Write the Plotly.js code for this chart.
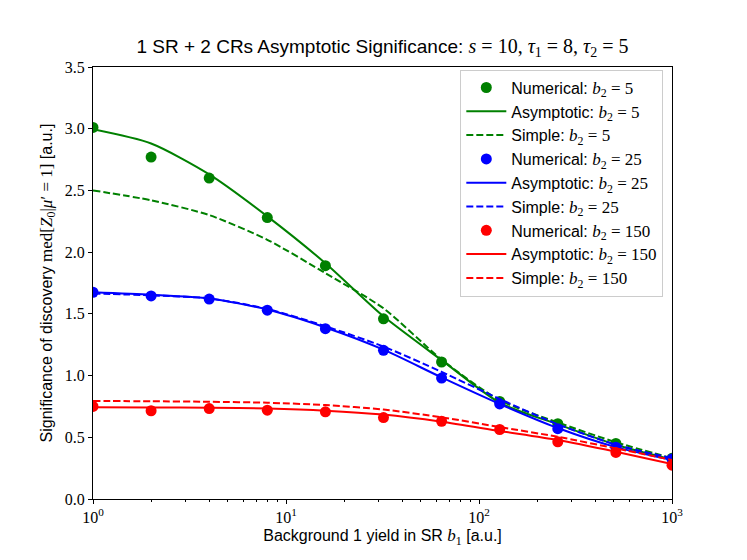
<!DOCTYPE html>
<html>
<head>
<meta charset="utf-8">
<script src="https://cdn.plot.ly/plotly-3.0.1.min.js"></script>
<style>
  body { margin: 0; background: #fff; }
  #chart { width: 747px; height: 560px; }
</style>
</head>
<body>
<div id="chart"></div>
<script>
// background yield in SR (b1)
const b1Values = [1, 2, 4, 8, 16, 32, 64, 128, 256, 512, 1000];

// b2 = 5
const numericalB2_5 = [3.01, 2.77, 2.60, 2.28, 1.89, 1.46, 1.11, 0.79, 0.61, 0.45, 0.33];
const asymptoticB2_5 = [2.995, 2.88, 2.63, 2.29, 1.91, 1.48, 1.125, 0.78, 0.605, 0.44, 0.32];
const simpleB2_5 = [2.50, 2.42, 2.30, 2.10, 1.83, 1.545, 1.13, 0.80, 0.62, 0.46, 0.33];

// b2 = 25
const numericalB2_25 = [1.675, 1.645, 1.62, 1.53, 1.38, 1.205, 0.98, 0.77, 0.57, 0.42, 0.325];
const asymptoticB2_25 = [1.675, 1.655, 1.625, 1.535, 1.39, 1.21, 0.985, 0.77, 0.575, 0.42, 0.315];
const simpleB2_25 = [1.665, 1.65, 1.625, 1.54, 1.40, 1.235, 1.03, 0.81, 0.605, 0.44, 0.33];

// b2 = 150
const numericalB2_150 = [0.75, 0.715, 0.733, 0.72, 0.706, 0.66, 0.63, 0.563, 0.463, 0.377, 0.274];
const asymptoticB2_150 = [0.743, 0.742, 0.74, 0.733, 0.716, 0.684, 0.626, 0.551, 0.478, 0.383, 0.283];
const simpleB2_150 = [0.794, 0.792, 0.788, 0.78, 0.761, 0.725, 0.662, 0.583, 0.504, 0.41, 0.316];

const xTickValues = [1, 10, 100, 1000];
const xTickLabels = ["10<sup>0</sup>", "10<sup>1</sup>", "10<sup>2</sup>", "10<sup>3</sup>"];

const SANS = "Liberation Sans, Arial, sans-serif";
const SERIF = "Liberation Serif, DejaVu Serif, serif";

function mathText(text, size) {
  return `<span style="font-family:${SERIF};font-size:${size}px">${text}</span>`;
}

function b2Label(kind, b2) {
  return `${kind}: ${mathText(`<i>b</i><sub>2</sub> = ${b2}`, 17)}`;
}

function minorLogTicks() {
  const values = [];
  [1, 10, 100].forEach((decade) => {
    for (let k = 2; k <= 9; k += 1) {
      values.push(decade * k);
    }
  });
  return values;
}

function markerTrace(yValues, color, b2) {
  return {
    type: "scatter",
    mode: "markers",
    x: b1Values,
    y: yValues,
    name: b2Label("Numerical", b2),
    legendgroup: `num${b2}`,
    marker: { color, size: 11 },
  };
}

function lineTrace(yValues, color, b2, kind, dash) {
  return {
    type: "scatter",
    mode: "lines",
    x: b1Values,
    y: yValues,
    name: b2Label(kind, b2),
    legendgroup: `${kind}${b2}`,
    line: { color, width: 2, dash, shape: "spline", smoothing: 0.7 },
  };
}

const data = [
  markerTrace(numericalB2_5, "green", 5),
  lineTrace(asymptoticB2_5, "green", 5, "Asymptotic", "solid"),
  lineTrace(simpleB2_5, "green", 5, "Simple", "7px,3px"),
  markerTrace(numericalB2_25, "blue", 25),
  lineTrace(asymptoticB2_25, "blue", 25, "Asymptotic", "solid"),
  lineTrace(simpleB2_25, "blue", 25, "Simple", "7px,3px"),
  markerTrace(numericalB2_150, "red", 150),
  lineTrace(asymptoticB2_150, "red", 150, "Asymptotic", "solid"),
  lineTrace(simpleB2_150, "red", 150, "Simple", "7px,3px"),
];

const layout = {
  width: 747,
  height: 560,
  paper_bgcolor: "#fff",
  plot_bgcolor: "#fff",
  margin: { l: 93, r: 75, t: 67, b: 61 },
  font: { family: SANS, size: 16, color: "#000" },
  title: {
    text: `1 SR + 2 CRs Asymptotic Significance: ${mathText("<i>s</i> = 10, <i>τ</i><sub>1</sub> = 8, <i>τ</i><sub>2</sub> = 5", 20)}`,
    font: { family: SANS, size: 19, color: "#000" },
    xref: "paper",
    x: 0.5,
    xanchor: "center",
    yref: "container",
    y: 0.918,
    yanchor: "middle",
  },
  xaxis: {
    type: "log",
    range: [0, 3],
    tickvals: xTickValues,
    ticktext: xTickLabels,
    tickfont: { family: SERIF, size: 16 },
    ticks: "outside",
    ticklen: 4,
    tickcolor: "#000",
    minor: { tickvals: minorLogTicks(), ticks: "outside", ticklen: 2, tickcolor: "#000" },
    showgrid: false,
    zeroline: false,
    showline: true,
    mirror: true,
    linecolor: "#000",
    linewidth: 1,
    title: {
      text: `Background 1 yield in SR ${mathText("<i>b</i><sub>1</sub>", 17)} [a.u.]`,
      font: { family: SANS, size: 16 },
      standoff: 4,
    },
  },
  yaxis: {
    range: [0, 3.5],
    dtick: 0.5,
    tickformat: ".1f",
    tickfont: { family: SERIF, size: 16 },
    ticks: "outside",
    ticklen: 4,
    tickcolor: "#000",
    showgrid: false,
    zeroline: false,
    showline: true,
    mirror: true,
    linecolor: "#000",
    linewidth: 1,
    title: {
      text: `Significance of discovery ${mathText("med[<i>Z</i><sub>0</sub>|<i>μ</i>′ = 1]", 17)} [a.u.]`,
      font: { family: SANS, size: 16 },
      standoff: 8,
    },
  },
  legend: {
    x: 0.985,
    xanchor: "right",
    y: 0.994,
    yanchor: "top",
    bgcolor: "rgba(255,255,255,0.85)",
    bordercolor: "#cccccc",
    borderwidth: 1,
    font: { family: SANS, size: 16 },
    traceorder: "grouped",
    tracegroupgap: 0,
    itemwidth: 40,
  },
};

Plotly.newPlot("chart", data, layout, { displayModeBar: false, staticPlot: true });
</script>
</body>
</html>
